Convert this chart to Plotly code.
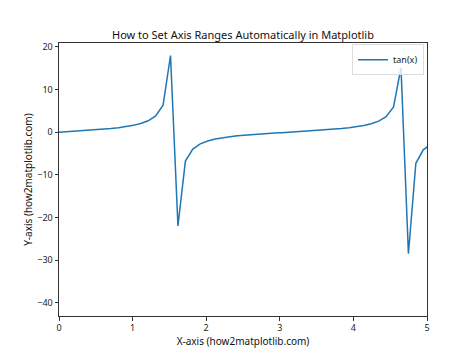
import plotly.graph_objects as go

x_values = [0.0000, 0.1010, 0.2020, 0.3030, 0.4040, 0.5051, 0.6061, 0.7071, 0.8081, 0.9091,
            1.0101, 1.1111, 1.2121, 1.3131, 1.4141, 1.5152, 1.6162, 1.7172, 1.8182, 1.9192,
            2.0202, 2.1212, 2.2222, 2.3232, 2.4242, 2.5253, 2.6263, 2.7273, 2.8283, 2.9293,
            3.0303, 3.1313, 3.2323, 3.3333, 3.4343, 3.5354, 3.6364, 3.7374, 3.8384, 3.9394,
            4.0404, 4.1414, 4.2424, 4.3434, 4.4444, 4.5455, 4.6465, 4.7475, 4.8485, 4.9495,
            5.0505]
tan_values = [0.000, 0.101, 0.205, 0.313, 0.427, 0.552, 0.692, 0.854, 1.049, 1.284,
              1.592, 2.020, 2.666, 3.794, 6.33, 17.97, -22.0, -6.78, -3.96, -2.755,
              -2.072, -1.629, -1.312, -1.068, -0.870, -0.708, -0.567, -0.440, -0.324, -0.216,
              -0.112, -0.010, 0.091, 0.194, 0.301, 0.416, 0.540, 0.680, 0.840, 1.027,
              1.256, 1.557, 1.968, 2.584, 3.642, 5.935, 15.15, -28.5, -7.30, -4.14,
              -2.845]
x_ticks = [0, 1, 2, 3, 4, 5]
y_ticks = [20, 10, 0, -10, -20, -30, -40]

FONT = "Noto Sans"

fig = go.Figure()
fig.add_trace(go.Scatter(x=x_values, y=tan_values, mode="lines", name="tan(x)",
                         line=dict(color="#1f77b4", width=1.5), showlegend=True))

axis_common = dict(showgrid=False, zeroline=False, showline=True, linecolor="#333333",
                   linewidth=1, mirror=True, ticks="outside", ticklen=3.5, tickwidth=0.8,
                   tickcolor="#333333", automargin=False,
                   tickfont=dict(family=FONT, size=9, color="#222222"))

# page body has an 8px default margin, so the figure is sized to fit inside the window
fig.update_layout(
    width=466, height=347,
    margin=dict(l=51, r=47, t=35, b=39),
    paper_bgcolor="white", plot_bgcolor="white",
    title=dict(text="How to Set Axis Ranges Automatically in Matplotlib", x=0.5, xref="paper",
               xanchor="center", y=1 - 27 / 347, yanchor="middle",
               font=dict(family=FONT, size=11, color="#111111")),
    xaxis=dict(range=[0, 5], tickvals=x_ticks,
               title=dict(text="X-axis (how2matplotlib.com)", standoff=0,
                          font=dict(family=FONT, size=10, color="#111111")),
               **axis_common),
    yaxis=dict(range=[-43.1, 20.9], tickvals=y_ticks, **axis_common),
    legend=dict(x=0.992, y=0.995, xanchor="right", yanchor="top",
                bgcolor="rgba(255,255,255,0.8)", bordercolor="#dddddd", borderwidth=1,
                font=dict(family=FONT, size=9, color="#222222"),
                itemwidth=30, tracegroupgap=0),
    showlegend=True,
)

fig.add_annotation(text="Y-axis (how2matplotlib.com)", textangle=-90,
                   xref="paper", yref="paper", x=-0.086, y=0.5,
                   xanchor="center", yanchor="middle", showarrow=False,
                   font=dict(family=FONT, size=10, color="#111111"))

fig.write_html("out.html")
